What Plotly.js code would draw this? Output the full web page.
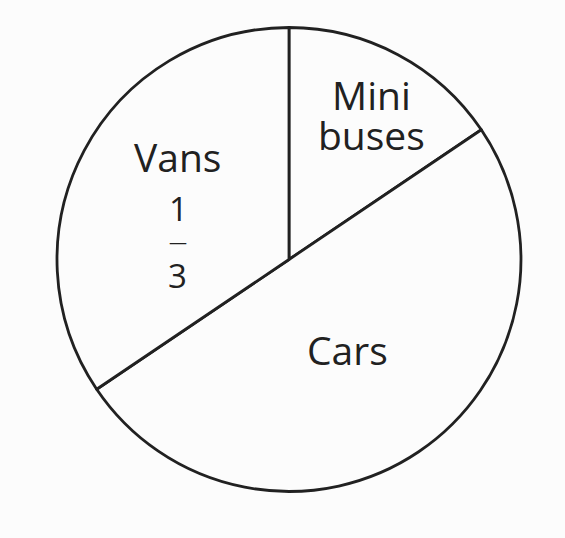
<!DOCTYPE html>
<html>
<head>
<meta charset="utf-8">
<script src="https://cdn.plot.ly/plotly-3.0.1.min.js"></script>
<style>html,body{margin:0;padding:0;background:#fcfcfc;}#chart{width:565px;height:538px;}</style>
</head>
<body>
<div id="chart"></div>
<script>
// Data: slice sizes (degrees, clockwise from 12 o'clock)
const categories = ['Mini buses', 'Cars', 'Vans'];
const values = [56, 180, 124];
const labelLines = [['Mini', 'buses'], ['Cars'], ['Vans']];
const vansNumerator = '1';
const vansDenominator = '3';

const ink = '#212121';
const fontFamily = '"Open Sans", "DejaVu Sans", sans-serif';
const bg = '#fcfcfc';
const labelSize = 39;

const trace = {
  type: 'pie',
  labels: categories,
  values: values,
  sort: false,
  direction: 'clockwise',
  rotation: 0,
  textinfo: 'none',
  hoverinfo: 'none',
  marker: {
    colors: [bg, bg, bg],
    line: { color: ink, width: 2.8 }
  },
  domain: { x: [0.1009, 0.9221], y: [0.0864, 0.9489] },
  showlegend: false
};

const ann = (text, px, py, size) => ({
  text: text, x: px / 565, y: 1 - py / 538, xref: 'paper', yref: 'paper',
  xanchor: 'center', yanchor: 'middle', showarrow: false,
  font: { family: fontFamily, size: size || labelSize, color: ink }
});

// two-line label with tight line spacing: base size sets the spacing, span sets glyph size
const tight = lines => lines
  .map(l => '<span style="font-size:' + labelSize + 'px">' + l + '</span>')
  .join('<br>');

const layout = {
  width: 565, height: 538,
  margin: { l: 0, r: 0, t: 0, b: 0 },
  paper_bgcolor: bg,
  plot_bgcolor: bg,
  annotations: [
    ann(tight(labelLines[0]), 371, 115, 31),
    ann(labelLines[1][0], 347, 349),
    ann(labelLines[2][0], 177.5, 156),
    ann(vansNumerator, 178, 208, 33),
    ann('—', 178, 242, 18),
    ann(vansDenominator, 177, 275, 33)
  ]
};

Plotly.newPlot('chart', [trace], layout, { staticPlot: true, displayModeBar: false });
</script>
</body>
</html>
